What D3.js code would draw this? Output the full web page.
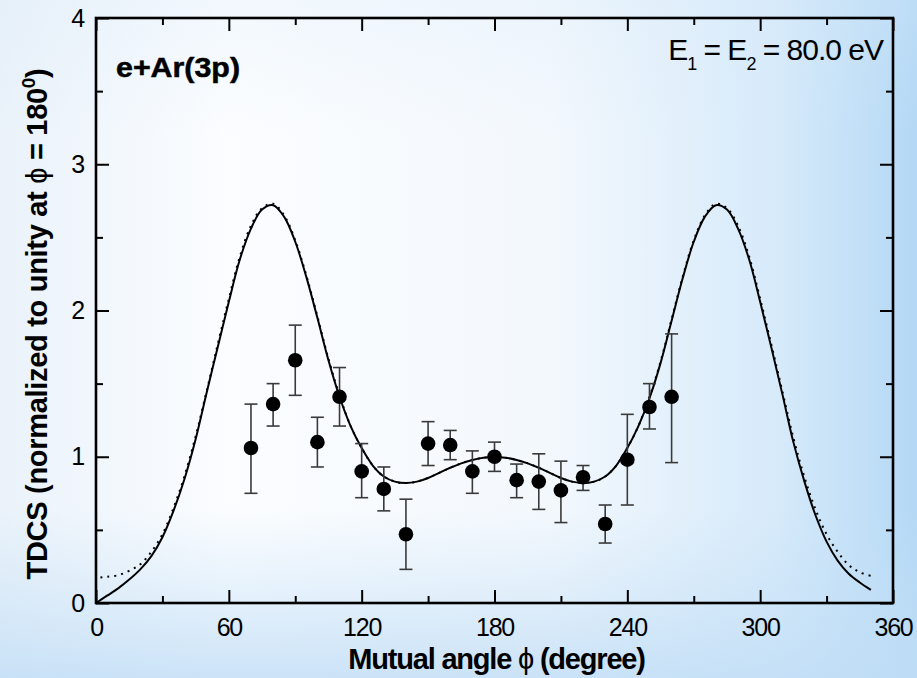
<!DOCTYPE html>
<html>
<head>
<meta charset="utf-8">
<script src="https://cdnjs.cloudflare.com/ajax/libs/d3/7.8.5/d3.min.js"></script>
<style>
  html, body { margin: 0; padding: 0; background: #fff; }
  svg text { font-family: "Liberation Sans", Arial, sans-serif; fill: #000; }
</style>
</head>
<body>
<div id="chart"></div>
<script>
const width = 917;
const height = 678;

// experimental points
const angles = [70, 80, 90, 100, 110, 120, 130, 140, 150, 160, 170, 180, 190, 200, 210, 220, 230, 240, 250, 260];
const tdcs   = [1.06, 1.36, 1.66, 1.10, 1.41, 0.90, 0.78, 0.47, 1.09, 1.08, 0.90, 1.00, 0.84, 0.83, 0.77, 0.86, 0.54, 0.98, 1.34, 1.41];
const errLow = [0.75, 1.21, 1.42, 0.93, 1.21, 0.72, 0.63, 0.23, 0.94, 0.98, 0.75, 0.90, 0.72, 0.64, 0.55, 0.77, 0.41, 0.67, 1.19, 0.96];
const errHigh= [1.36, 1.50, 1.90, 1.27, 1.61, 1.09, 0.93, 0.71, 1.24, 1.18, 1.04, 1.10, 0.95, 1.02, 0.97, 0.94, 0.67, 1.29, 1.50, 1.84];

// theory, solid curve
const solidAngles = [0, 5, 10, 15, 20, 25, 30, 35, 40, 45, 50, 55, 60, 65, 70, 75, 80, 85, 90, 95,
  100, 105, 110, 115, 120, 125, 130, 135, 140, 145, 150, 155, 160, 165, 170, 175, 180, 185, 190, 195,
  200, 205, 210, 215, 220, 225, 230, 235, 240, 245, 250, 255, 260, 265, 270, 275, 280, 285, 290, 295,
  300, 305, 310, 315, 320, 325, 330, 335, 340, 345, 350];
const solidValues = [0.00, 0.05, 0.10, 0.16, 0.23, 0.32, 0.45, 0.63, 0.85, 1.12, 1.44, 1.75, 2.06, 2.35, 2.56, 2.69, 2.72, 2.64, 2.47, 2.23,
  1.95, 1.66, 1.41, 1.21, 1.06, 0.94, 0.865, 0.83, 0.82, 0.83, 0.855, 0.89, 0.925, 0.955, 0.978, 0.993, 0.998, 0.993, 0.978, 0.955,
  0.925, 0.89, 0.855, 0.83, 0.82, 0.83, 0.865, 0.94, 1.06, 1.21, 1.40, 1.64, 1.93, 2.22, 2.47, 2.64, 2.72, 2.69, 2.56, 2.35,
  2.06, 1.75, 1.43, 1.10, 0.83, 0.60, 0.42, 0.29, 0.20, 0.14, 0.09];

// theory, dotted curve
const dotAngles = [2, 5, 10, 15, 20, 25, 30, 35, 40, 45, 50, 55, 60, 65, 70, 75, 80, 85, 90, 95,
  100, 105, 110, 115, 120, 125, 130, 135, 140, 145, 150, 155, 160, 165, 170, 175, 180, 185, 190, 195,
  200, 205, 210, 215, 220, 225, 230, 235, 240, 245, 250, 255, 260, 265, 270, 275, 280, 285, 290, 295,
  300, 305, 310, 315, 320, 325, 330, 335, 340, 345, 350];
const dotValues = [0.175, 0.18, 0.19, 0.22, 0.265, 0.35, 0.47, 0.65, 0.87, 1.14, 1.45, 1.77, 2.08, 2.37, 2.58, 2.70, 2.73, 2.65, 2.48, 2.24,
  1.96, 1.67, 1.42, 1.21, 1.06, 0.94, 0.865, 0.83, 0.82, 0.83, 0.855, 0.89, 0.925, 0.955, 0.978, 0.993, 0.998, 0.993, 0.978, 0.955,
  0.925, 0.89, 0.855, 0.83, 0.82, 0.83, 0.865, 0.94, 1.06, 1.21, 1.41, 1.65, 1.94, 2.23, 2.48, 2.65, 2.73, 2.70, 2.58, 2.37,
  2.08, 1.77, 1.45, 1.13, 0.86, 0.64, 0.47, 0.35, 0.26, 0.21, 0.185];

const xMajor = [0, 60, 120, 180, 240, 300, 360];
const xMinor = [30, 90, 150, 210, 270, 330];
const yMajor = [0, 1, 2, 3, 4];
const yMinor = [0.5, 1.5, 2.5, 3.5];

const svg = d3.select("#chart").append("svg")
    .attr("width", width)
    .attr("height", height);

// background: white in the middle, light blue toward the right and the bottom
const defs = svg.append("defs");
const gradH = defs.append("linearGradient").attr("id", "bgH")
    .attr("x1", "0%").attr("x2", "100%").attr("y1", "0%").attr("y2", "0%");
gradH.append("stop").attr("offset", "0%").attr("stop-color", "#eaf2fa");
gradH.append("stop").attr("offset", "25%").attr("stop-color", "#fbfdff");
gradH.append("stop").attr("offset", "60%").attr("stop-color", "#f3f8fd");
gradH.append("stop").attr("offset", "85%").attr("stop-color", "#d6eafa");
gradH.append("stop").attr("offset", "100%").attr("stop-color", "#b4d8f5");
const gradV = defs.append("linearGradient").attr("id", "bgV")
    .attr("x1", "0%").attr("x2", "0%").attr("y1", "0%").attr("y2", "100%");
gradV.append("stop").attr("offset", "0%").attr("stop-color", "#d8eaf9").attr("stop-opacity", 0.25);
gradV.append("stop").attr("offset", "20%").attr("stop-color", "#d8eaf9").attr("stop-opacity", 0);
gradV.append("stop").attr("offset", "75%").attr("stop-color", "#c8e2f7").attr("stop-opacity", 0);
gradV.append("stop").attr("offset", "100%").attr("stop-color", "#c0ddf6").attr("stop-opacity", 0.8);
svg.append("rect").attr("width", width).attr("height", height).attr("fill", "url(#bgH)");
svg.append("rect").attr("width", width).attr("height", height).attr("fill", "url(#bgV)");

const mLeft = 96, mRight = 893, mTop = 18, mBottom = 603;

const x = d3.scaleLinear().domain([0, 360]).range([mLeft, mRight]);
const y = d3.scaleLinear().domain([0, 4]).range([mBottom, mTop]);

function styleAxis(g) {
    g.select(".domain").remove();
    g.selectAll(".tick line").attr("stroke", "#000").attr("stroke-width", 2);
    g.selectAll("text").attr("font-size", 25).attr("letter-spacing", "-1.2px");
}

// major + minor ticks, inward, on all four sides
svg.append("g").attr("transform", `translate(0,${mBottom})`)
    .call(d3.axisBottom(x).tickValues(xMajor).tickSize(-13).tickPadding(15).tickFormat(d3.format("d")))
    .call(styleAxis);
svg.append("g").attr("transform", `translate(0,${mBottom})`)
    .call(d3.axisBottom(x).tickValues(xMinor).tickSize(-7).tickFormat(""))
    .call(styleAxis);
svg.append("g").attr("transform", `translate(0,${mTop})`)
    .call(d3.axisTop(x).tickValues(xMajor).tickSize(-13).tickFormat(""))
    .call(styleAxis);
svg.append("g").attr("transform", `translate(0,${mTop})`)
    .call(d3.axisTop(x).tickValues(xMinor).tickSize(-7).tickFormat(""))
    .call(styleAxis);
svg.append("g").attr("transform", `translate(${mLeft},0)`)
    .call(d3.axisLeft(y).tickValues(yMajor).tickSize(-13).tickPadding(12).tickFormat(d3.format("d")))
    .call(styleAxis);
svg.append("g").attr("transform", `translate(${mLeft},0)`)
    .call(d3.axisLeft(y).tickValues(yMinor).tickSize(-7).tickFormat(""))
    .call(styleAxis);
svg.append("g").attr("transform", `translate(${mRight},0)`)
    .call(d3.axisRight(y).tickValues(yMajor).tickSize(-13).tickFormat(""))
    .call(styleAxis);
svg.append("g").attr("transform", `translate(${mRight},0)`)
    .call(d3.axisRight(y).tickValues(yMinor).tickSize(-7).tickFormat(""))
    .call(styleAxis);

// frame
svg.append("rect")
    .attr("x", mLeft).attr("y", mTop)
    .attr("width", mRight - mLeft).attr("height", mBottom - mTop)
    .attr("fill", "none").attr("stroke", "#000").attr("stroke-width", 2.6);

// theory curves
const line = d3.line().x(d => x(d[0])).y(d => y(d[1])).curve(d3.curveCatmullRom);

svg.append("path")
    .datum(dotAngles.map((a, i) => [a, dotValues[i]]))
    .attr("d", line)
    .attr("fill", "none").attr("stroke", "#000").attr("stroke-width", 2)
    .attr("stroke-dasharray", "2,5");

svg.append("path")
    .datum(solidAngles.map((a, i) => [a, solidValues[i]]))
    .attr("d", line)
    .attr("fill", "none").attr("stroke", "#000").attr("stroke-width", 2);

// error bars
const pts = angles.map((a, i) => ({ a: a, v: tdcs[i], lo: errLow[i], hi: errHigh[i] }));
const eb = svg.append("g").attr("stroke", "#3a3a3a").attr("stroke-width", 1.6);
eb.selectAll(".bar").data(pts).enter().append("line")
    .attr("x1", d => x(d.a)).attr("x2", d => x(d.a))
    .attr("y1", d => y(d.lo)).attr("y2", d => y(d.hi));
eb.selectAll(".capt").data(pts).enter().append("line")
    .attr("x1", d => x(d.a) - 6.5).attr("x2", d => x(d.a) + 6.5)
    .attr("y1", d => y(d.hi)).attr("y2", d => y(d.hi));
eb.selectAll(".capb").data(pts).enter().append("line")
    .attr("x1", d => x(d.a) - 6.5).attr("x2", d => x(d.a) + 6.5)
    .attr("y1", d => y(d.lo)).attr("y2", d => y(d.lo));

svg.append("g").selectAll("circle").data(pts).enter().append("circle")
    .attr("cx", d => x(d.a)).attr("cy", d => y(d.v))
    .attr("r", 7.3).attr("fill", "#000");

// labels
svg.append("text")
    .attr("x", 116).attr("y", 77)
    .attr("font-size", 28).attr("font-weight", "bold")
    .attr("stroke", "#000").attr("stroke-width", 0.5)
    .attr("textLength", 124).attr("lengthAdjust", "spacingAndGlyphs")
    .text("e+Ar(3p)");

const en = svg.append("text")
    .attr("x", 883).attr("y", 60)
    .attr("text-anchor", "end")
    .attr("font-size", 30).attr("letter-spacing", "-1px");
en.append("tspan").text("E");
en.append("tspan").attr("font-size", 18).attr("dy", 10).text("1");
en.append("tspan").attr("dy", -10).text(" = E");
en.append("tspan").attr("font-size", 18).attr("dy", 10).text("2");
en.append("tspan").attr("dy", -10).text(" = 80.0 eV");

const xl = svg.append("text")
    .attr("x", (mLeft + mRight) / 2 + 2).attr("y", 669)
    .attr("text-anchor", "middle")
    .attr("font-size", 29).attr("font-weight", "bold").attr("letter-spacing", "-1.2px");
xl.append("tspan").text("Mutual angle ");
xl.append("tspan").attr("font-weight", "normal").text("ϕ");
xl.append("tspan").text(" (degree)");

const yl = svg.append("text")
    .attr("transform", "translate(47,324) rotate(-90)")
    .attr("text-anchor", "middle")
    .attr("font-size", 29).attr("font-weight", "bold").attr("letter-spacing", "-0.3px");
yl.append("tspan").text("TDCS (normalized to unity at ");
yl.append("tspan").attr("font-weight", "normal").text("ϕ");
yl.append("tspan").text(" = 180");
yl.append("tspan").attr("font-size", 19).attr("dy", -12).text("0");
yl.append("tspan").attr("dy", 12).text(")");
</script>
</body>
</html>
